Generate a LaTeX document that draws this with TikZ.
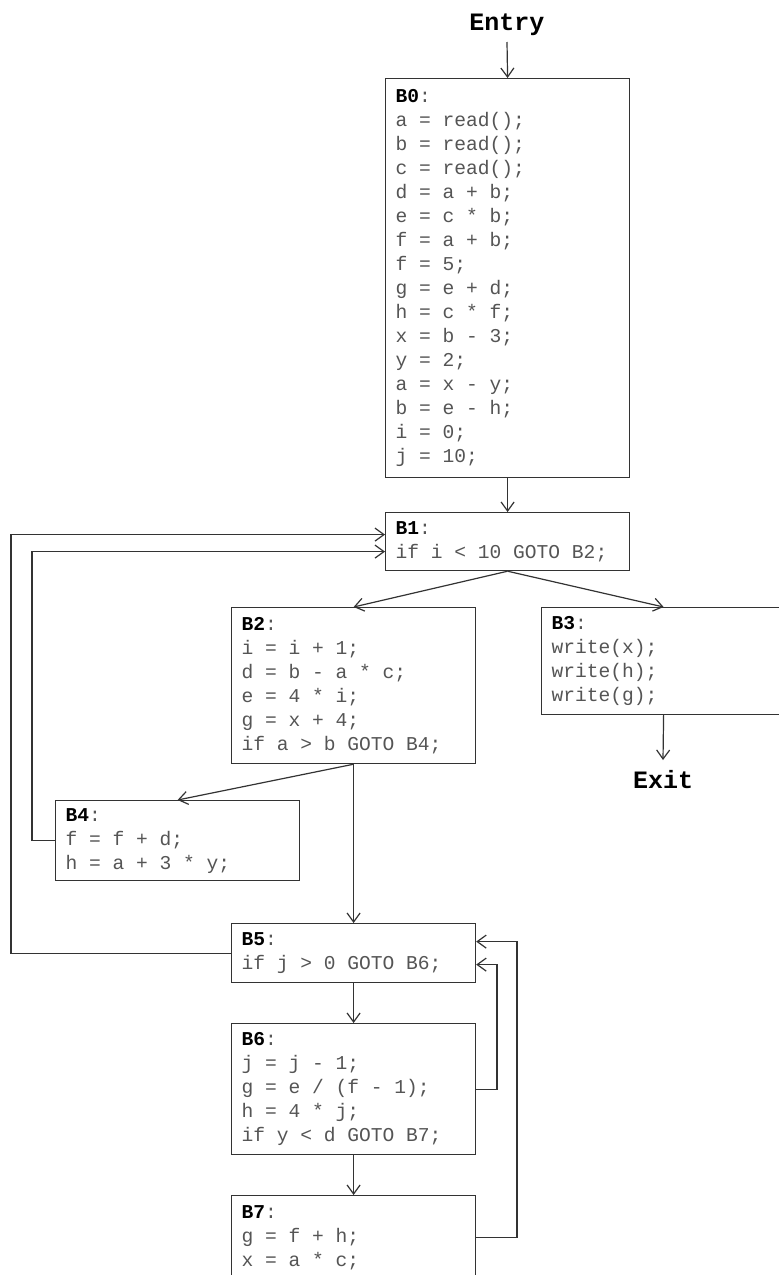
\documentclass[tikz,border=0pt]{standalone}
\usepackage{fontspec}
\setmonofont{Liberation Mono}
\usetikzlibrary{arrows.meta}
\definecolor{txt}{HTML}{555555}
\definecolor{ln}{HTML}{333333}
\newcommand{\codefont}{\ttfamily\fontsize{19.6}{24}\selectfont}
\tikzset{
  blk/.style={draw=ln, line width=1.2pt, rectangle, anchor=north west,
    minimum width=244pt, text width=224pt, inner xsep=10pt,
    font=\codefont, text=txt},
  term/.style={font=\ttfamily\bfseries\fontsize{25}{30}\selectfont, text=black,
    inner xsep=0pt, text height=16pt, text depth=5pt},
  arr/.style={draw=ln, line width=1.2pt, -{Straight Barb[length=9pt,width=13pt]}},
}
\newcommand{\lbl}[1]{\spaceskip=11.76pt\relax\xspaceskip=11.76pt\relax\textcolor{black}{\textbf{#1}}:}
\begin{document}
\begin{tikzpicture}[x=1pt,y=-1pt]
\useasboundingbox (0,0) rectangle (779,1275);
\clip (0,0) rectangle (779,1275);
\fill[white] (0,0) rectangle (779,1275);

\node[term, anchor=south, inner ysep=6pt] (entry) at (507,42) {Entry};

\node[blk, minimum height=399pt] (B0) at (385,78) {\lbl{B0}\\
a = read();\\
b = read();\\
c = read();\\
d = a + b;\\
e = c * b;\\
f = a + b;\\
f = 5;\\
g = e + d;\\
h = c * f;\\
x = b - 3;\\
y = 2;\\
a = x - y;\\
b = e - h;\\
i = 0;\\
j = 10;};

\node[blk, minimum height=58pt] (B1) at (385,512) {\lbl{B1}\\
if i < 10 GOTO B2;};

\node[blk, minimum height=156pt] (B2) at (231,607) {\lbl{B2}\\
i = i + 1;\\
d = b - a * c;\\
e = 4 * i;\\
g = x + 4;\\
if a > b GOTO B4;};

\node[blk, minimum height=107pt] (B3) at (541,607) {\lbl{B3}\\
write(x);\\
write(h);\\
write(g);};

\node[term, anchor=north, inner ysep=12pt] (exit) at (663,760) {Exit};

\node[blk, minimum height=80pt] (B4) at (55,800) {\lbl{B4}\\
f = f + d;\\
h = a + 3 * y;};

\node[blk, minimum height=59pt] (B5) at (231,923) {\lbl{B5}\\
if j > 0 GOTO B6;};

\node[blk, minimum height=131pt] (B6) at (231,1023) {\lbl{B6}\\
j = j - 1;\\
g = e / (f - 1);\\
h = 4 * j;\\
if y < d GOTO B7;};

\node[blk, minimum height=84pt] (B7) at (231,1195) {\lbl{B7}\\
g = f + h;\\
x = a * c;};

\coordinate (xA) at (11,0);
\coordinate (xB) at (32,0);
\coordinate (xC) at (497,0);
\coordinate (xD) at (517,0);

\draw[arr] (entry.south) -- (B0.north);
\draw[arr] (B0.south) -- (B1.north);
\draw[arr] (B1.south) -- (B2.north);
\draw[arr] (B1.south) -- (B3.north);
\draw[arr] (B3.south) -- (exit.north);
\draw[arr] (B2.south) -- (B4.north);
\draw[arr] (B2.south) -- (B5.north);
\draw[arr] (B5.south) -- (B6.north);
\draw[arr] (B6.south) -- (B7.north);
\draw[arr] (B5.west) -- (B5.west -| xA) |- ([yshift=7pt]B1.west);
\draw[arr] (B4.west) -- (B4.west -| xB) |- ([yshift=-10pt]B1.west);
\draw[arr] (B6.east) -- (B6.east -| xC) |- ([yshift=-11.5pt]B5.east);
\draw[arr] (B7.east) -- (B7.east -| xD) |- ([yshift=11.5pt]B5.east);
\end{tikzpicture}
\end{document}
